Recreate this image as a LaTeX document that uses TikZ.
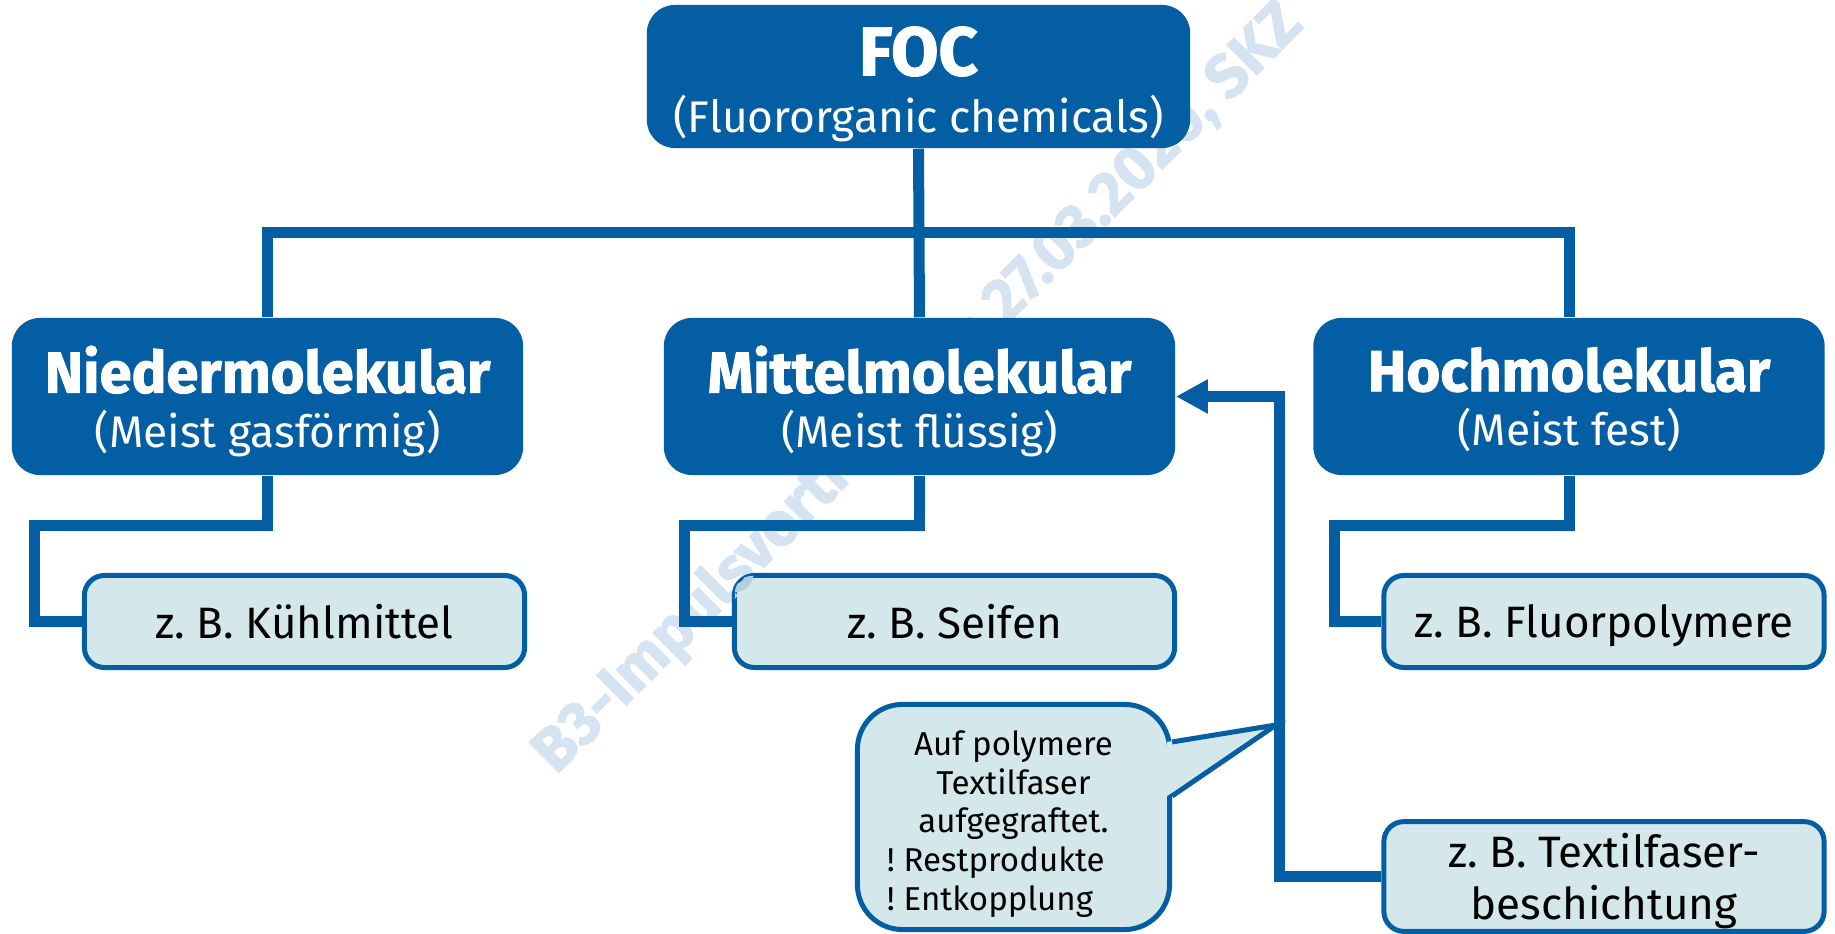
\documentclass[tikz,border=0pt]{standalone}
\usepackage{fontspec}
\setmainfont{Fira Sans}
\newfontfamily\heavyfont{Fira Sans}[UprightFont={* Bold}, UprightFeatures={FakeBold=1.6}]
\frenchspacing
\definecolor{bb}{RGB}{4, 94, 163}
\definecolor{ll}{RGB}{212, 232, 236}
\definecolor{ww}{RGB}{214, 228, 241}
\definecolor{wl}{RGB}{178, 207, 223}
\usetikzlibrary{positioning,arrows.meta,calc}
\tikzset{
  headbox/.style={rectangle, rounded corners=0.28cm, fill=bb, text=white, align=center, text depth=0pt, minimum width=5.11cm, minimum height=1.57cm, font=\fontsize{12.6}{15.5}\selectfont},
  kidbox/.style={rectangle, rounded corners=0.2cm, draw=bb, line width=0.05cm, fill=ll, align=center, text depth=0pt, minimum width=4.40cm, minimum height=0.92cm, font=\fontsize{12.5}{14.8}\selectfont},
  link/.style={draw=bb, line width=0.11cm},
  stamp/.style={rotate=45, anchor=base west, inner sep=0, font=\heavyfont\fontsize{17.5}{17.5}\selectfont},
}
\newcommand{\headline}[1]{{\heavyfont\fontsize{16.5}{16.5}\selectfont #1}}
\newcommand{\stamptext}{B3-Impulsvortrag vom 27.03.2020, SKZ}

\begin{document}
\begin{tikzpicture}[x=0.01cm, y=-0.01cm]
\useasboundingbox (0,0) rectangle (1835,934);

% watermark
\node[stamp, text=ww] (mark) at (556,776) {\stamptext};

\node[kidbox] (kuehl) at (304.5,621.5) {z. B. Kühlmittel};
\node[kidbox] (seifen) at (954.5,621.5) {z. B. Seifen};
\node[kidbox] (fluor) at (1604,621.5) {z. B. Fluorpolymere};
\node[kidbox, minimum height=1.08cm] (textil) at (1604,876.5) {z. B. Textilfaser-\\beschichtung};

% watermark seen through the light box
\begin{scope}
\clip[rounded corners=0.17cm] ([shift={(0.03cm,-0.03cm)}]seifen.north west) rectangle ([shift={(-0.03cm,0.03cm)}]seifen.south east);
\node[stamp, text=wl] (marktint) at (556,776) {\stamptext};
\end{scope}

\node[headbox, minimum width=5.43cm, minimum height=1.43cm] (foc) at (918.5,76.5) {{\heavyfont\fontsize{19.5}{19.5}\selectfont\rule{0pt}{15.5pt}FOC}\\[0.7pt](Fluororganic chemicals)};
\node[headbox] (nieder) at (267.5,396.5) {\headline{Niedermolekular}\\(Meist gasförmig)};
\node[headbox] (mittel) at (919.5,396.5) {\headline{Mittelmolekular}\\(Meist flüssig)};
\node[headbox] (hoch) at (1569,396.5) {\headline{Hochmolekular}\\(Meist fest)};

\node[kidbox, minimum width=3.12cm, minimum height=2.25cm, rounded corners=0.45cm, font=\fontsize{9.4}{11}\selectfont] (note) at (1013.5,817) {\rule{0pt}{9pt}Auf polymere\\Textilfaser\\aufgegraftet.\\\makebox[2.53cm][l]{! Restprodukte}\\\makebox[2.53cm][l]{! Entkopplung}};
\coordinate (tip) at (1276,725);
\fill[ll] ([xshift=-0.05cm,yshift=-0.40cm]note.north east) -- (tip) -- ([xshift=-0.05cm,yshift=-0.94cm]note.north east) -- cycle;
\draw[bb, line width=0.05cm] ([yshift=-0.40cm]note.north east) -- (tip) -- ([yshift=-0.94cm]note.north east);

% tree
\coordinate (split) at ($(foc.south)!0.5!(mittel.north)$);
\draw[link] (foc.south) -- (mittel.north);
\draw[link] (nieder.north) |- (split) -| (hoch.north);

\draw[link] (nieder.south) -- ++(0,50) -| ([xshift=-0.47cm]kuehl.west) -- (kuehl.west);
\draw[link] (mittel.south) -- ++(0,50) -| ([xshift=-0.47cm]seifen.west) -- (seifen.west);
\draw[link] (hoch.south) -- ++(0,50) -| ([xshift=-0.47cm]fluor.west) -- (fluor.west);

\draw[link, -{Triangle[length=0.32cm, width=0.32cm]}] (textil.west) -| ([xshift=1.04cm]mittel.east) -- (mittel.east);

\end{tikzpicture}
\end{document}
